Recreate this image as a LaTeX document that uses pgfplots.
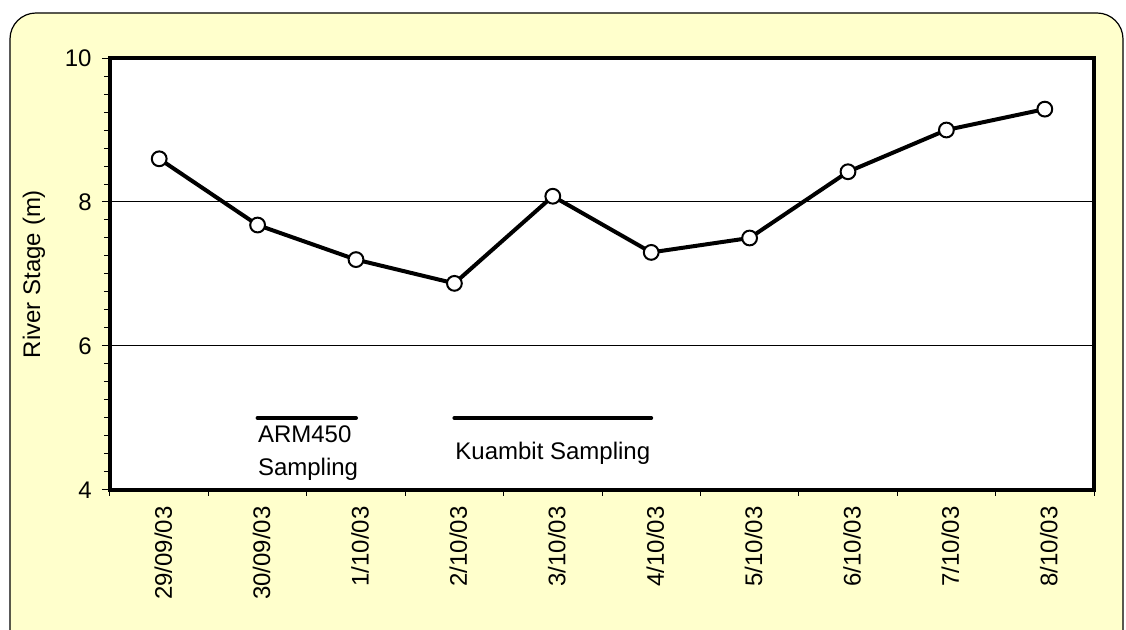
\documentclass[border=0pt]{standalone}
\usepackage{pgfplots}
\pgfplotsset{compat=1.18}
\usepackage{fontspec}
\setmainfont{Liberation Sans}
\definecolor{bgyellow}{RGB}{255,255,204}
\begin{document}
\fontsize{12}{14}\selectfont
\begin{tikzpicture}[x=1pt,y=1pt]
\useasboundingbox (0,0) rectangle (563,315);
\clip (0,0) rectangle (563,315);
\draw[fill=bgyellow, line width=0.6pt, rounded corners=13pt] (5,-20) rectangle (561.5,308.5);
\begin{axis}[
  at={(55pt,70pt)}, anchor=south west,
  scale only axis, width=492pt, height=216pt,
  xmin=-0.5, xmax=9.5, ymin=4, ymax=10,
  axis background/.style={fill=white},
  axis line style={line width=2pt},
  /pgf/number format/assume math mode=true,
  xtick={0,...,9},
  xticklabels={29/09/03,30/09/03,1/10/03,2/10/03,3/10/03,4/10/03,5/10/03,6/10/03,7/10/03,8/10/03},
  xticklabel style={rotate=90, anchor=east, font=\fontsize{12}{14}\selectfont, yshift=-2pt},
  major x tick style={draw=none},
  minor xtick={-0.5,0.5,...,9.5},
  xtick pos=bottom, ytick pos=left,
  ytick={4,6,8,10},
  minor y tick num=7,
  tick align=outside,
  major tick length=4pt, minor tick length=3pt,
  tick style={line width=0.5pt, black},
  yticklabel style={font=\fontsize{12}{14}\selectfont, xshift=-1pt},
  ymajorgrids, grid style={line width=0.5pt, black},
  ylabel={River Stage (m)},
  ylabel style={font=\fontsize{12}{14}\selectfont, at={(axis description cs:-0.0772,0.5)}, anchor=center},
  clip=false,
]
\addplot[black, line width=2pt, mark=*, mark size=3.7pt, mark options={fill=white, line width=1pt}]
  coordinates {(0,8.6)(1,7.68)(2,7.2)(3,6.87)(4,8.08)(5,7.3)(6,7.5)(7,8.42)(8,9.0)(9,9.29)};
\addplot[black, line width=2pt, no marks, line cap=round] coordinates {(1,5)(2,5)};
\addplot[black, line width=2pt, no marks, line cap=round] coordinates {(3,5)(5,5)};
\node[anchor=west, inner sep=0pt] at (axis cs:1,4.78) {ARM450};
\node[anchor=west, inner sep=0pt] at (axis cs:1,4.29) {Sampling};
\node[inner sep=0pt] at (axis cs:4,4.51) {Kuambit Sampling};
\end{axis}
\end{tikzpicture}
\end{document}
